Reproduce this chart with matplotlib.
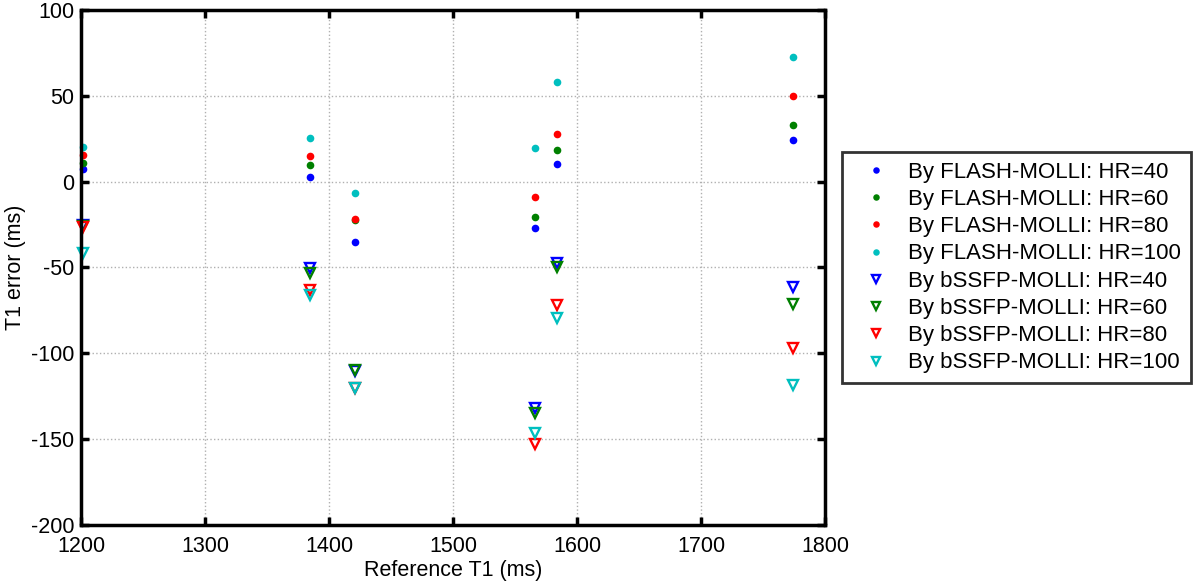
import numpy as np
import matplotlib
matplotlib.use('Agg')
import matplotlib.pyplot as plt

plt.rcParams['font.family'] = ['Liberation Sans', 'DejaVu Sans']
plt.rcParams['axes.unicode_minus'] = False

# Reference T1 values (ms)
ref_t1 = [1202, 1385, 1421, 1566, 1584, 1774]

# T1 error (ms) - FLASH-MOLLI
flash_hr40 = [7.4, 2.9, -35.3, -27.0, 10.3, 24.1]
flash_hr60 = [10.9, 9.7, -22.5, -20.4, 18.6, 33.0]
flash_hr80 = [15.7, 15.1, -21.9, -9.1, 28.0, 49.9]
flash_hr100 = [20.4, 25.3, -6.4, 19.6, 58.3, 72.4]

# T1 error (ms) - bSSFP-MOLLI
bssfp_hr40 = [-25.5, -50.5, -110.5, -132.0, -47.5, -61.1]
bssfp_hr60 = [-26.0, -53.0, -110.0, -134.5, -49.5, -71.4]
bssfp_hr80 = [-26.2, -63.0, -120.0, -152.9, -71.8, -97.0]
bssfp_hr100 = [-41.7, -66.0, -120.3, -146.2, -79.2, -118.4]

labels = ['By FLASH-MOLLI: HR=40', 'By FLASH-MOLLI: HR=60',
          'By FLASH-MOLLI: HR=80', 'By FLASH-MOLLI: HR=100',
          'By bSSFP-MOLLI: HR=40', 'By bSSFP-MOLLI: HR=60',
          'By bSSFP-MOLLI: HR=80', 'By bSSFP-MOLLI: HR=100']
colors = ['#0000ff', '#008000', '#ff0000', '#00bfbf']

fig = plt.figure(figsize=(12, 5.84), dpi=100)
ax = fig.add_axes([0.0675, 0.101, 0.62, 0.882])

flash = [flash_hr40, flash_hr60, flash_hr80, flash_hr100]
bssfp = [bssfp_hr40, bssfp_hr60, bssfp_hr80, bssfp_hr100]

for i in range(4):
    ax.plot(ref_t1, flash[i], 'o', color=colors[i], markersize=5.5,
            markeredgewidth=0, label=labels[i], clip_on=False)
for i in range(4):
    ax.plot(ref_t1, bssfp[i], 'v', color=colors[i], markerfacecolor='none',
            markersize=7.5, markeredgewidth=1.7, label=labels[4 + i], clip_on=False)

ax.set_xlim(1200, 1800)
ax.set_ylim(-200, 100)
ax.set_xticks(np.arange(1200, 1801, 100))
ax.set_yticks(np.arange(-200, 101, 50))
ax.grid(True, color='#b0b0b0', linestyle=':', linewidth=1.0)
ax.tick_params(direction='in', top=True, right=True, length=6, width=2.5,
               labelsize=15.5)
ax.tick_params(axis='x', pad=8)
ax.tick_params(axis='y', pad=5)
for s in ax.spines.values():
    s.set_linewidth(2.5)

ax.set_xlabel('Reference T1 (ms)', fontsize=15.5, labelpad=2)
ax.set_ylabel('T1 error (ms)', fontsize=15.5, labelpad=3)

leg = fig.legend(loc='upper left', bbox_to_anchor=(0.7014, 0.7402),
                 fontsize=16, frameon=True, fancybox=False, handlelength=2.2,
                 handletextpad=0.35, labelspacing=0.28, borderpad=0.45,
                 borderaxespad=0, markerscale=0.85)
leg.get_frame().set_edgecolor('black')
leg.get_frame().set_linewidth(2.0)

fig.savefig('out.png', dpi=100)
